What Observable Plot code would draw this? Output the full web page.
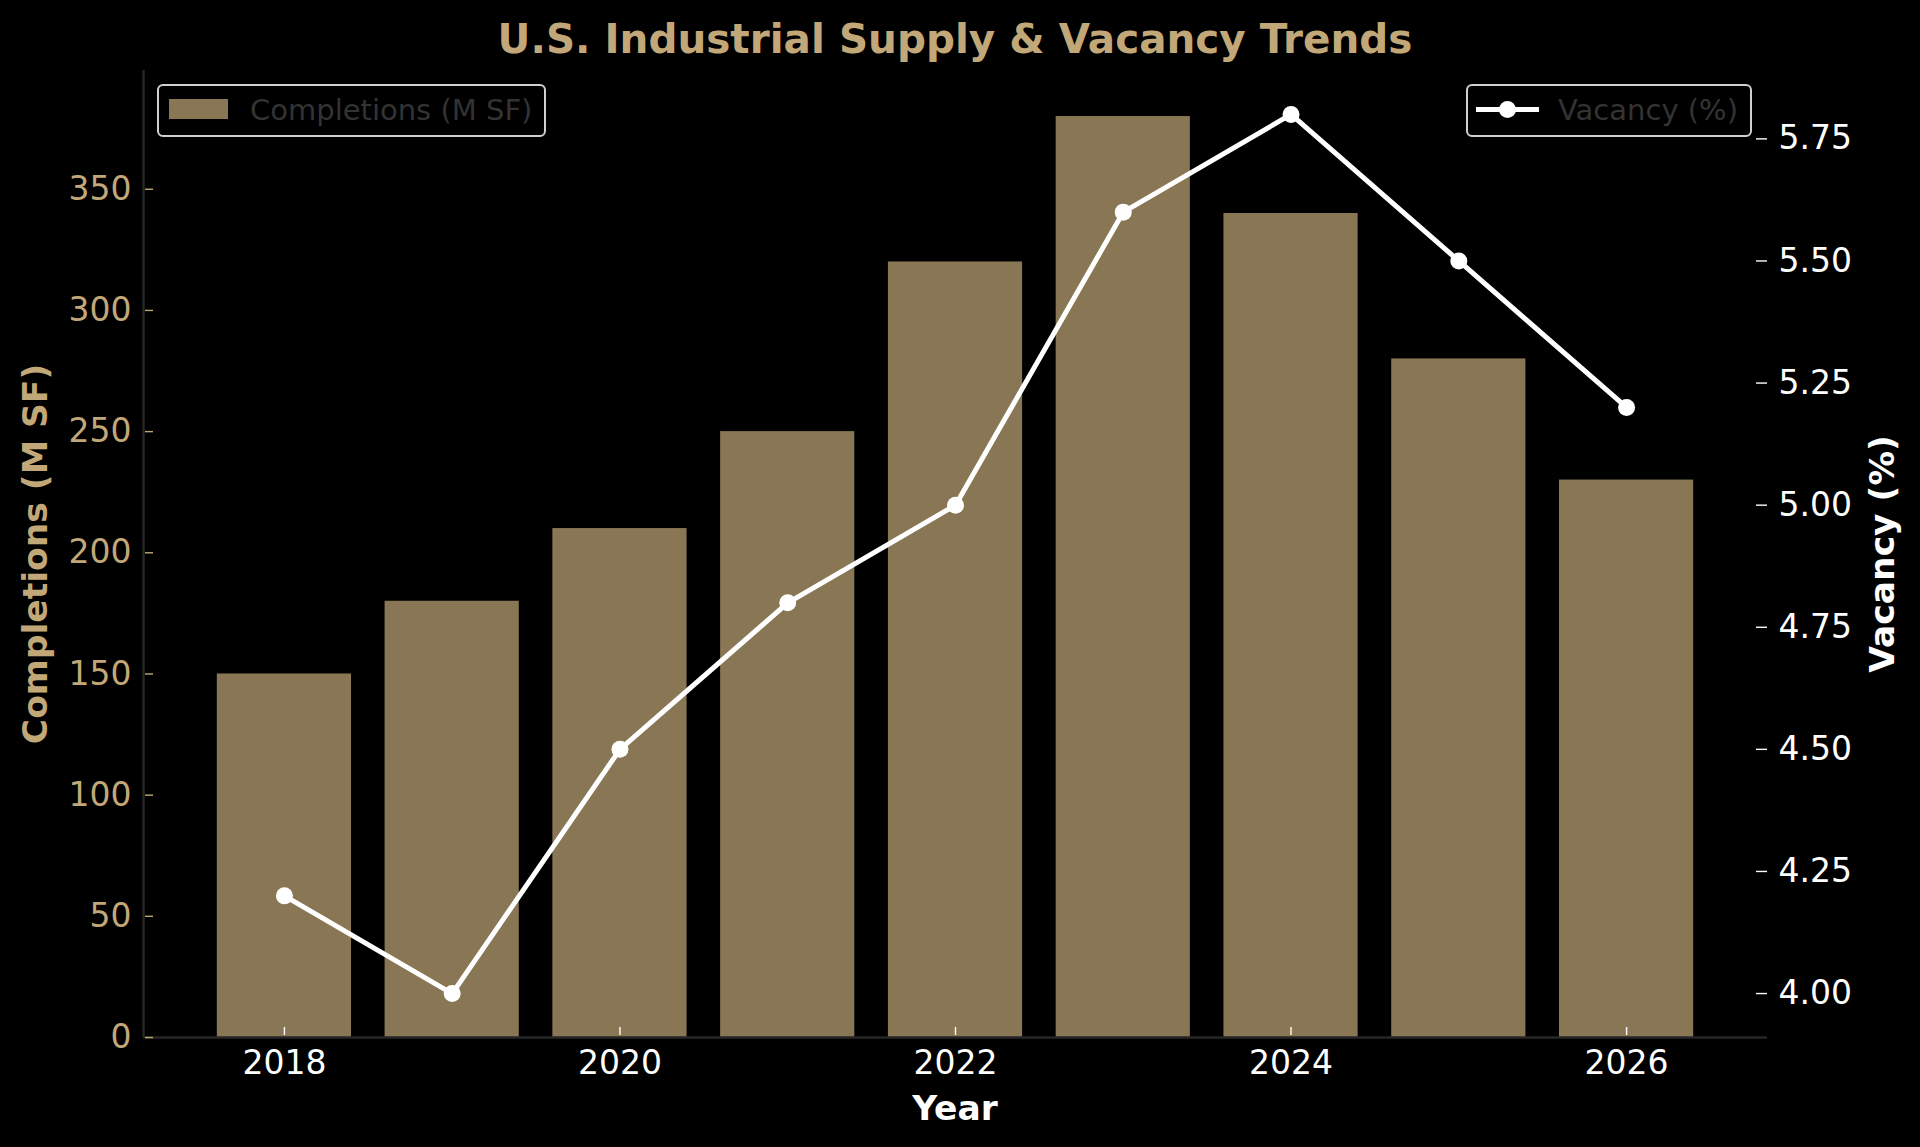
<!DOCTYPE html>
<html>
<head>
<meta charset="utf-8">
<script src="https://cdn.jsdelivr.net/npm/d3@7"></script>
<script src="https://cdn.jsdelivr.net/npm/@observablehq/plot@0.6"></script>
<style>
  html, body { margin: 0; padding: 0; background: #000; }
  #wrap { position: relative; width: 1920px; height: 1147px; background: #000; overflow: hidden; font-family: "DejaVu Sans", sans-serif; }
  .layer { position: absolute; left: 0; top: 0; }
  .lbl { position: absolute; font-weight: bold; white-space: nowrap; line-height: 1; }
  .legend { position: absolute; box-sizing: border-box; border: 2px solid #d0d0d0; border-radius: 6px; background: #000; }
  .legend .txt { position: absolute; font-size: 29px; color: #333; line-height: 1; white-space: nowrap; }
</style>
</head>
<body>
<div id="wrap">
  <div id="p1" class="layer"></div>
  <div id="p2" class="layer"></div>
</div>
<script>
// ---- data ----
const years = [2018, 2019, 2020, 2021, 2022, 2023, 2024, 2025, 2026];
const completions = [150, 180, 210, 250, 320, 380, 340, 280, 230];
const vacancy = [4.2, 4.0, 4.5, 4.8, 5.0, 5.6, 5.8, 5.5, 5.2];
const completionTicks = [0, 50, 100, 150, 200, 250, 300, 350];
const vacancyTicks = [4.00, 4.25, 4.50, 4.75, 5.00, 5.25, 5.50, 5.75];
const yearTicks = [2018, 2020, 2022, 2024, 2026];
const titleText = "U.S. Industrial Supply & Vacancy Trends";
const xLabel = "Year";
const yLabelLeft = "Completions (M SF)";
const yLabelRight = "Vacancy (%)";
const barLegend = "Completions (M SF)";
const lineLegend = "Vacancy (%)";

const data = years.map((year, i) => ({year, completions: completions[i], vacancy: vacancy[i]}));

const W = 1920, H = 1147;
const mL = 143, mR = 153, mT = 70, mB = 110;
const frameW = W - mL - mR, frameH = H - mT - mB;
const xDomain = [2017.16, 2026.84];
const tan = "#c2a878";
const spine = "#262626";
const font = "DejaVu Sans, sans-serif";

const common = {
  width: W, height: H,
  marginLeft: mL, marginRight: mR, marginTop: mT, marginBottom: mB,
};

const p1 = Plot.plot({
  ...common,
  style: {background: "#000", color: "white", fontFamily: font, overflow: "visible"},
  x: {type: "linear", domain: xDomain, axis: null},
  y: {domain: [0, 399], axis: null},
  marks: [
    Plot.rectY(data, {x1: d => d.year - 0.4, x2: d => d.year + 0.4, y1: 0, y2: "completions", fill: tan, fillOpacity: 0.7}),
    Plot.ruleY([0], {stroke: spine, strokeWidth: 2.5}),
    Plot.ruleX([xDomain[0]], {stroke: spine, strokeWidth: 2.5}),
    Plot.tickY(completionTicks, {y: d => d, stroke: tan, strokeWidth: 1.4, insetRight: frameW - 10, insetLeft: 2}),
    Plot.tickX(yearTicks, {x: d => d, stroke: "white", strokeWidth: 1.4, insetTop: frameH - 10, insetBottom: 2}),
    Plot.axisY({ticks: completionTicks, tickSize: 0, tickPadding: 12, fill: tan, fontSize: 33, label: null}),
    Plot.axisX({ticks: yearTicks, tickSize: 0, tickPadding: 13, fill: "white", fontSize: 33, label: null, tickFormat: d => String(d)})
  ]
});
document.getElementById("p1").appendChild(p1);

const p2 = Plot.plot({
  ...common,
  style: {background: "transparent", color: "white", fontFamily: font, overflow: "visible"},
  x: {type: "linear", domain: xDomain, axis: null},
  y: {domain: [3.91, 5.89], axis: null},
  marks: [
    Plot.line(data, {x: "year", y: "vacancy", stroke: "white", strokeWidth: 5}),
    Plot.dot(data, {x: "year", y: "vacancy", r: 8.5, fill: "white", stroke: null}),
    Plot.tickY(vacancyTicks, {y: d => d, stroke: "white", strokeWidth: 1.4, insetLeft: frameW - 11}),
    Plot.axisY({anchor: "right", ticks: vacancyTicks, tickSize: 0, tickPadding: 11, fill: "white", fontSize: 33, label: null, tickFormat: d => d.toFixed(2)})
  ]
});
document.getElementById("p2").appendChild(p2);

const wrap = document.getElementById("wrap");
function addLabel(text, cx, cy, size, color, rotate) {
  const el = document.createElement("div");
  el.className = "lbl";
  el.textContent = text;
  el.style.fontSize = size + "px";
  el.style.color = color;
  el.style.left = cx + "px";
  el.style.top = cy + "px";
  el.style.transform = "translate(-50%,-50%)" + (rotate ? " rotate(-90deg)" : "");
  wrap.appendChild(el);
}
addLabel(titleText, mL + frameW / 2, 39, 40.5, tan, false);
addLabel(xLabel, mL + frameW / 2, 1108, 34.5, "white", false);
addLabel(yLabelLeft, 35, mT + frameH / 2, 34.5, tan, true);
addLabel(yLabelRight, 1882, mT + frameH / 2, 34.5, "white", true);

// legends
function legendBox(left, top, w, h) {
  const el = document.createElement("div");
  el.className = "legend";
  el.style.left = left + "px"; el.style.top = top + "px";
  el.style.width = w + "px"; el.style.height = h + "px";
  wrap.appendChild(el);
  return el;
}
const lg1 = legendBox(157, 84, 389, 53);
const sw = document.createElement("div");
sw.style.cssText = `position:absolute;left:10px;top:13px;width:59px;height:20px;background:${tan};opacity:0.7;`;
lg1.appendChild(sw);
const t1 = document.createElement("div");
t1.className = "txt"; t1.textContent = barLegend;
t1.style.left = "91px"; t1.style.top = "10px";
lg1.appendChild(t1);

const lg2 = legendBox(1466, 84, 286, 53);
const ln = document.createElement("div");
ln.style.cssText = "position:absolute;left:8px;top:21px;width:63px;height:5px;background:#fff;";
lg2.appendChild(ln);
const mk = document.createElement("div");
mk.style.cssText = "position:absolute;left:31px;top:15px;width:17px;height:17px;border-radius:50%;background:#fff;";
lg2.appendChild(mk);
const t2 = document.createElement("div");
t2.className = "txt"; t2.textContent = lineLegend;
t2.style.left = "90px"; t2.style.top = "10px";
lg2.appendChild(t2);
</script>
</body>
</html>
